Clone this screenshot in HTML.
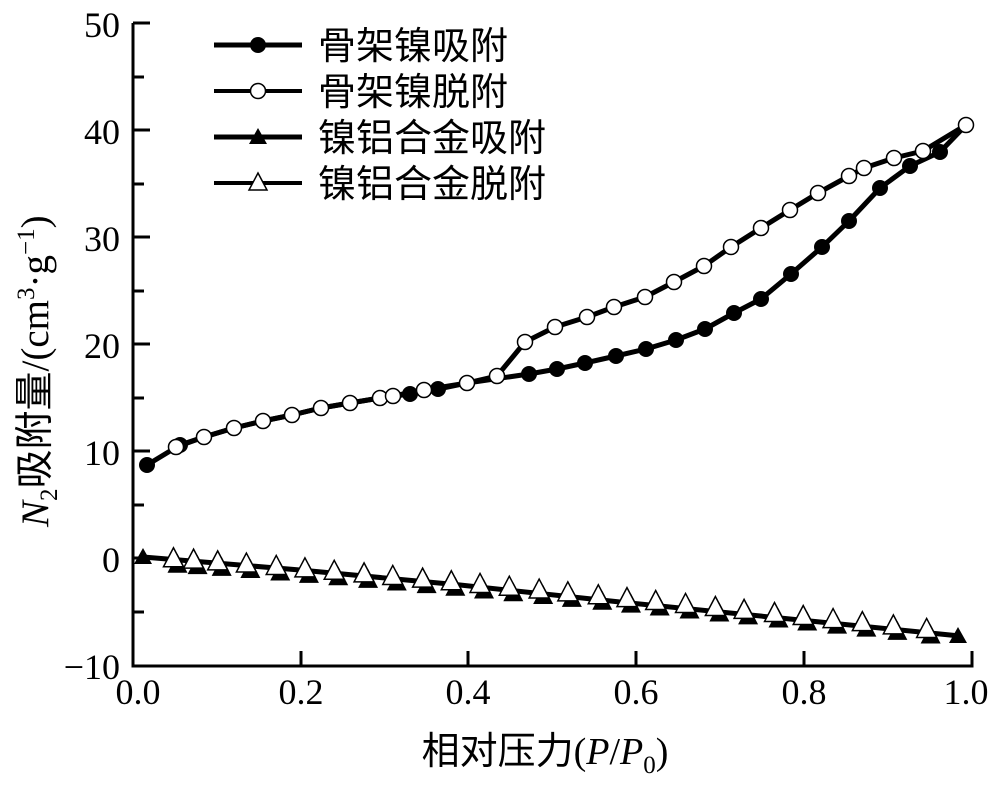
<!DOCTYPE html>
<html><head><meta charset="utf-8"><style>
body{margin:0;background:#fff}
svg{display:block}
.s{font-family:"Liberation Serif","Noto Serif CJK SC",serif;fill:#000}
.cjk{font-family:"Liberation Sans","Noto Sans CJK SC",sans-serif}
</style></head><body>
<svg width="1000" height="792" viewBox="0 0 1000 792" xmlns="http://www.w3.org/2000/svg">
<g stroke="#000" stroke-width="3" fill="none">
<path d="M133,23 V666 H972 V651"/>
<path d="M133,23 H150 M133,130 H150 M133,237 H150 M133,344 H150 M133,451 H150 M133,558 H150 M133,77 H144 M133,184 H144 M133,291 H144 M133,398 H144 M133,505 H144 M133,612 H144"/>
<path d="M301,666 V651 M468,666 V651 M636,666 V651 M804,666 V651"/>
</g>
<g class="s" font-family="Liberation Serif, serif" font-size="36" text-anchor="end">
<text x="120" y="37">50</text><text x="120" y="144">40</text><text x="120" y="251">30</text>
<text x="120" y="358">20</text><text x="120" y="465">10</text><text x="120" y="572">0</text>
<text x="120" y="679">−10</text>
</g>
<g class="s" font-family="Liberation Serif, serif" font-size="36" text-anchor="middle">
<text x="138" y="704">0.0</text><text x="301" y="704">0.2</text><text x="468" y="704">0.4</text>
<text x="636" y="704">0.6</text><text x="804" y="704">0.8</text><text x="966" y="704">1.0</text>
</g>
<text class="s" font-family="Liberation Serif, serif" x="545" y="764" font-size="38" text-anchor="middle"><tspan class="cjk">相对压力</tspan>(<tspan font-style="italic">P</tspan>/<tspan font-style="italic">P</tspan><tspan font-size="25" dy="9">0</tspan><tspan dy="-9">)</tspan></text>
<text class="s" font-family="Liberation Serif, serif" transform="translate(48,527) rotate(-90)" font-size="39"><tspan font-style="italic">N</tspan><tspan font-size="25" dy="9">2</tspan><tspan class="cjk" dy="-9">吸附量</tspan>/(cm<tspan font-size="25" dy="-14">3</tspan><tspan dy="14">·g</tspan><tspan font-size="25" dy="-14">−1</tspan><tspan dy="14">)</tspan></text>

<g stroke="#000" stroke-width="5" fill="none">
<polyline points="143,557 300,570 460,585 620,602 780,618 960,636"/>
</g>
<g fill="#000">
<polygon points="143,548 134,564 152,564"/>
<polygon points="958,627 949,643 967,643"/>
</g>
<g id="tri"></g>

<g stroke="#000" stroke-width="5" fill="none" stroke-linejoin="round">
<polyline points="147,465 180,445 204,437 234,428 263,421 292,415 321,408 350,403 380,398 410,394 438,389 467,383 529,374 557,369 585,363 616,356 646,349 676,340 705,329 734,313 761,299 791,274 822,247 849,221 880,188 910,166 940,152 966,125"/>
<polyline points="176,447 204,437 234,428 263,421 292,415 321,408 350,403 380,398 393,396 424,390 467,383 497,376 525,342 555,327 587,317 614,307 645,297 674,282 704,266 731,247 761,228 790,210 818,193 849,176 864,168 894,158 923,151 966,125"/>
</g>
<g fill="#000">
<circle cx="147" cy="465" r="8"/><circle cx="180" cy="445" r="8"/><circle cx="410" cy="394" r="8"/><circle cx="438" cy="389" r="8"/>
<circle cx="529" cy="374" r="8"/><circle cx="557" cy="369" r="8"/><circle cx="585" cy="363" r="8"/><circle cx="616" cy="356" r="8"/>
<circle cx="646" cy="349" r="8"/><circle cx="676" cy="340" r="8"/><circle cx="705" cy="329" r="8"/><circle cx="734" cy="313" r="8"/>
<circle cx="761" cy="299" r="8"/><circle cx="791" cy="274" r="8"/><circle cx="822" cy="247" r="8"/><circle cx="849" cy="221" r="8"/>
<circle cx="880" cy="188" r="8"/><circle cx="910" cy="166" r="8"/><circle cx="940" cy="152" r="8"/>
</g>
<g fill="#fff" stroke="#000" stroke-width="1.5">
<circle cx="176" cy="447" r="7.5"/><circle cx="204" cy="437" r="7.5"/><circle cx="234" cy="428" r="7.5"/><circle cx="263" cy="421" r="7.5"/>
<circle cx="292" cy="415" r="7.5"/><circle cx="321" cy="408" r="7.5"/><circle cx="350" cy="403" r="7.5"/><circle cx="380" cy="398" r="7.5"/>
<circle cx="393" cy="396" r="7.5"/><circle cx="424" cy="390" r="7.5"/><circle cx="467" cy="383" r="7.5"/><circle cx="497" cy="376" r="7.5"/>
<circle cx="525" cy="342" r="7.5"/><circle cx="555" cy="327" r="7.5"/><circle cx="587" cy="317" r="7.5"/><circle cx="614" cy="307" r="7.5"/>
<circle cx="645" cy="297" r="7.5"/><circle cx="674" cy="282" r="7.5"/><circle cx="704" cy="266" r="7.5"/><circle cx="731" cy="247" r="7.5"/>
<circle cx="761" cy="228" r="7.5"/><circle cx="790" cy="210" r="7.5"/><circle cx="818" cy="193" r="7.5"/><circle cx="849" cy="176" r="7.5"/>
<circle cx="864" cy="168" r="7.5"/><circle cx="894" cy="158" r="7.5"/><circle cx="923" cy="151" r="7.5"/><circle cx="966" cy="125" r="7.5"/>
</g>

<g stroke="#000" fill="none">
<path d="M214,45 H302" stroke-width="5"/><path d="M214,91 H302" stroke-width="4"/>
<path d="M214,137 H302" stroke-width="5"/><path d="M214,183 H302" stroke-width="4"/>
</g>
<circle cx="258" cy="45" r="8" fill="#000"/>
<circle cx="258" cy="91" r="7.5" fill="#fff" stroke="#000" stroke-width="1.5"/>
<polygon points="258,128 249,144 267,144" fill="#000"/>
<polygon points="258,173 249,190 267,190" fill="#fff" stroke="#000" stroke-width="1.5"/>
<g font-size="38" fill="#000">
<text x="318" y="59" class="cjk">骨架镍吸附</text>
<text x="318" y="105" class="cjk">骨架镍脱附</text>
<text x="318" y="151" class="cjk">镍铝合金吸附</text>
<text x="318" y="197" class="cjk">镍铝合金脱附</text>
</g>
</svg>
<script>
(function(){
var ns="http://www.w3.org/2000/svg",g=document.getElementById("tri");
var zx=[128,163,205,255,307,357,408,460,510,562,612,662,713,765,815,868,918,968,1020,1072,1122,1175,1225,1277,1328,1382,1440];
function yAt(x){var t=(x-143)/(960-143);return 557+76*Math.pow(t,1.15);}
function tri(cx,cy,fill){var p=document.createElementNS(ns,"polygon");
p.setAttribute("points",cx+","+(cy-10)+" "+(cx-10)+","+(cy+9)+" "+(cx+10)+","+(cy+9));
p.setAttribute("fill",fill);if(fill=="#fff"){p.setAttribute("stroke","#000");p.setAttribute("stroke-width","1.5");}
g.appendChild(p);}
zx.forEach(function(z){var x=100+z/1.742;tri(x+4,yAt(x)+5,"#000");});
zx.forEach(function(z){var x=100+z/1.742;tri(x,yAt(x)-1,"#fff");});
})();
</script>
</body></html>
